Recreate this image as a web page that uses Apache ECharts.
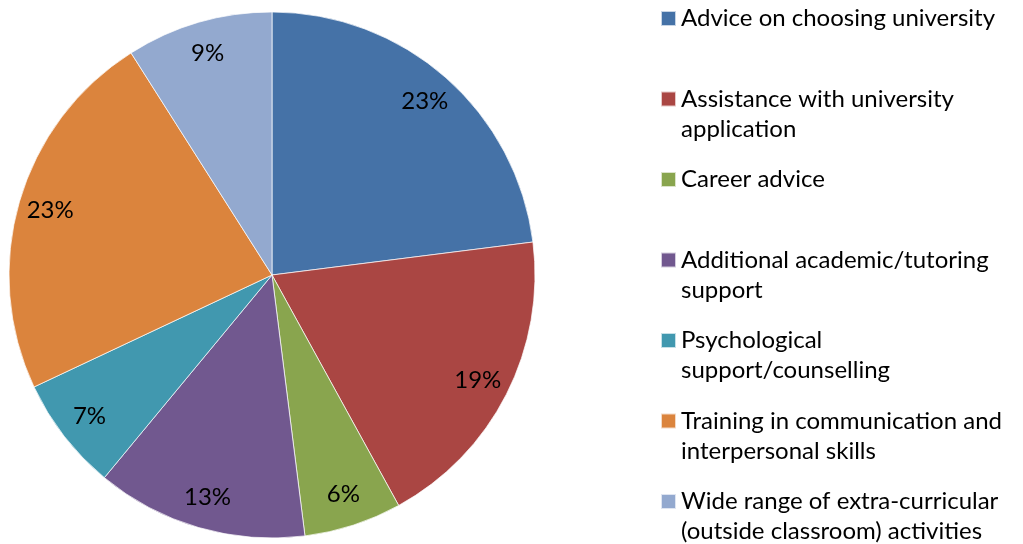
<!DOCTYPE html>
<html>
<head>
<meta charset="utf-8">
<script src="https://cdn.jsdelivr.net/npm/echarts@6/dist/echarts.min.js"></script>
<style>
  html, body { margin: 0; padding: 0; background: #fff; }
  #chart { width: 1023px; height: 544px; }
</style>
</head>
<body>
<div id="chart"></div>
<script>
  var categories = [
    'Advice on choosing university',
    'Assistance with university application',
    'Career advice',
    'Additional academic/tutoring support',
    'Psychological support/counselling',
    'Training in communication and interpersonal skills',
    'Wide range of extra-curricular (outside classroom) activities'
  ]
  // legend text as it wraps in the picture
  var legendLines = [
    ['Advice on choosing university'],
    ['Assistance with university', 'application'],
    ['Career advice'],
    ['Additional academic/tutoring', 'support'],
    ['Psychological', 'support/counselling'],
    ['Training in communication and', 'interpersonal skills'],
    ['Wide range of extra-curricular', '(outside classroom) activities']
  ]
  var shares = [23, 19, 6, 13, 7, 23, 9]
  var colors = ['#4572A7', '#AA4643', '#89A54E', '#71588F', '#4198AF', '#DB843D', '#93A9CF']

  var font = 'Lato, "Open Sans", sans-serif'
  var lineH = 30
  var firstCenter = 18.5
  var step = 80.5

  var pieData = categories.map(function (name, i) {
    return { name: name, value: shares[i], itemStyle: { color: colors[i] } }
  })

  // the icon sits at the middle of the text block, so two-line entries get an
  // empty line on top to keep the square next to the first line
  var legends = categories.map(function (name, i) {
    var lines = legendLines[i]
    var two = lines.length > 1
    var c = firstCenter + step * i
    return {
      orient: 'vertical',
      left: 660,
      top: two ? c - lineH * 1.5 : c - lineH / 2,
      padding: 0,
      itemWidth: 15,
      itemHeight: 15,
      itemGap: 0,
      icon: 'rect',
      selectedMode: false,
      data: [name],
      formatter: function () { return two ? '\u00a0\n' + lines.join('\n') : lines[0] },
      textStyle: {
        fontFamily: font,
        fontSize: 24,
        color: '#000',
        lineHeight: lineH
      }
    }
  })

  var chart = echarts.init(document.getElementById('chart'))
  chart.setOption({
    animation: false,
    legend: legends,
    series: [
      {
        name: 'slices',
        type: 'pie',
        center: [272, 275],
        radius: 263,
        startAngle: 90,
        clockwise: true,
        silent: true,
        label: { show: false },
        labelLine: { show: false },
        itemStyle: { borderColor: 'rgba(255,255,255,0.7)', borderWidth: 1 },
        data: pieData
      },
      {
        // invisible ring used only to place the percentage labels
        name: 'labels',
        type: 'pie',
        center: [272, 275],
        radius: 456,
        startAngle: 90,
        clockwise: true,
        silent: true,
        itemStyle: { color: 'rgba(0,0,0,0)', borderWidth: 0 },
        emphasis: { disabled: true },
        label: {
          show: true,
          position: 'inside',
          formatter: '{c}%',
          fontFamily: font,
          fontSize: 24,
          color: '#000'
        },
        labelLine: { show: false },
        data: categories.map(function (name, i) { return { name: name, value: shares[i] } })
      }
    ]
  })
</script>
</body>
</html>
